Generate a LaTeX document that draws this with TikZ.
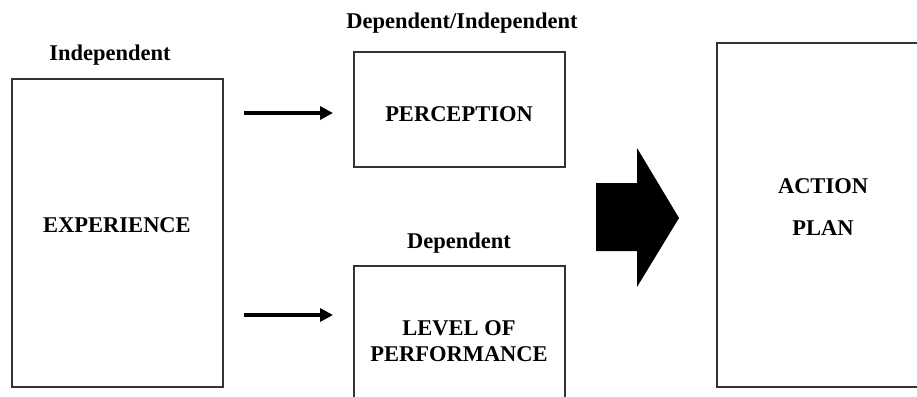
\documentclass[tikz,border=0pt]{standalone}
\usepackage{fontspec}
\setmainfont{Liberation Serif}
\usetikzlibrary{arrows.meta}
\tikzset{
  box/.style={draw=black!80, line width=1.5pt},
  lbl/.style={font=\fontsize{22.5}{27}\selectfont\bfseries, inner sep=0pt, anchor=base},
  link/.style={line width=3.5pt, -{Triangle[length=13pt,width=13pt]}},
}
\begin{document}
\begin{tikzpicture}[x=1pt,y=-1pt]
\useasboundingbox (0,0) rectangle (917,396);
% boxes
\draw[box] (12,79) rectangle (223,387);
\draw[box] (354,52) rectangle (565,167);
\draw[box] (354,266) rectangle (565,420);
\draw[box] (717,43) rectangle (940,387);
% labels
\node[lbl] (indep) at (110,60) {Independent};
\node[lbl] (depindep) at (462,29) {Dependent/Independent};
\node[lbl] (dep) at (459,248) {Dependent};
\node[lbl] (exp) at (117,232) {EXPERIENCE};
\node[lbl] (perc) at (459,121) {PERCEPTION};
\node[lbl] (lev1) at (459,335) {LEVEL OF};
\node[lbl] (lev2) at (459,361) {PERFORMANCE};
\node[lbl] (act1) at (823,193) {ACTION};
\node[lbl] (act2) at (823,235) {PLAN};
% arrows
\coordinate (a1s) at (244,113);
\coordinate (a1e) at (333,113);
\coordinate (a2s) at (244,315);
\coordinate (a2e) at (333,315);
\draw[link] (a1s) -- (a1e);
\draw[link] (a2s) -- (a2e);
% block arrow
\fill[black] (596,183) -- (637,183) -- (637,148) -- (679,218) -- (637,287) -- (637,251) -- (596,251) -- cycle;
\end{tikzpicture}
\end{document}
